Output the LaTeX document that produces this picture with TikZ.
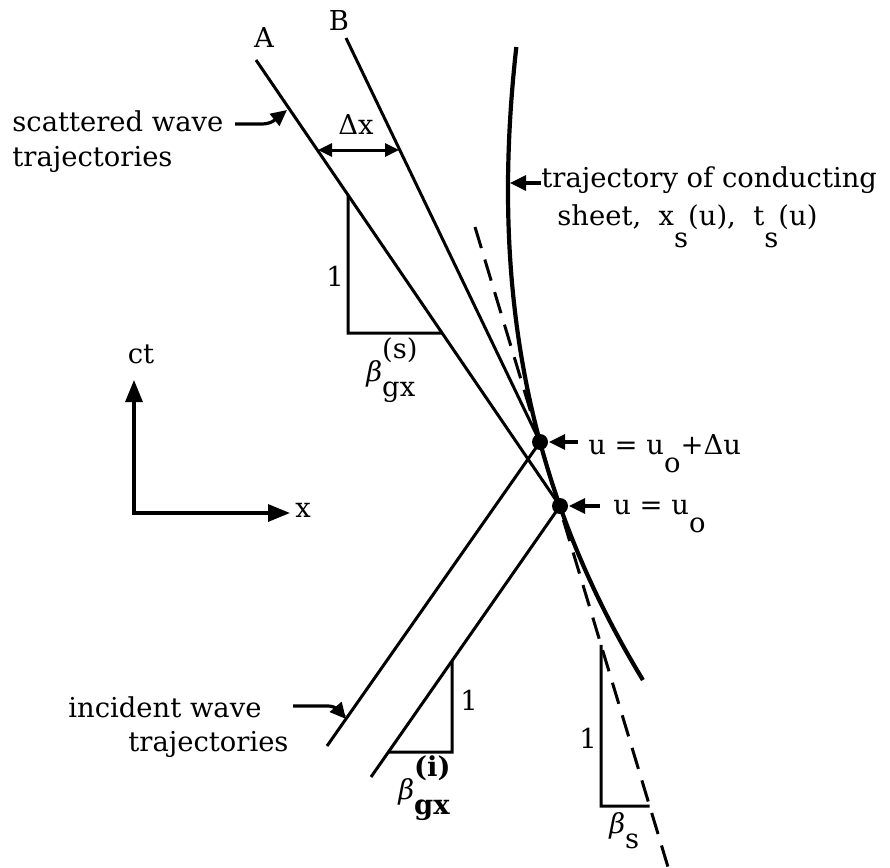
\documentclass[tikz,border=0pt]{standalone}
\usepackage{fontspec}
\setmainfont{DejaVu Serif}
\usetikzlibrary{arrows.meta}
\newcommand{\gb}{{\itshape β}}
\newcommand{\betalab}[2]{\gb\rlap{\raisebox{1.6ex}{#1}}\raisebox{-1.1ex}{#2}}
\begin{document}
\begin{tikzpicture}[x=0.5pt,y=-0.5pt,
  every node/.style={inner sep=0pt, font=\fontsize{13.7}{16}\selectfont},
  ln/.style={line width=1.5pt},
  sheetln/.style={line width=2.1pt},
  dashln/.style={line width=1.5pt, dash pattern=on 11pt off 6pt},
  tri/.style={line width=1.5pt, line join=miter},
  ptr/.style={line width=1.6pt, -{Triangle[length=8pt,width=7.5pt]}},
  dbl/.style={line width=1.5pt, {Triangle[length=7pt,width=6.5pt]}-{Triangle[length=7pt,width=6.5pt]}},
  axis/.style={line width=1.6pt, {Triangle[length=11pt,width=8.5pt]}-{Triangle[length=11pt,width=8.5pt]}},
  dot/.style={circle, fill=black, minimum size=8pt, inner sep=0pt},
]
\useasboundingbox (0,0) rectangle (890,868);

% key points
\coordinate (A0) at (256,60);
\coordinate (B0) at (346,38);
\coordinate (I1) at (327,746);
\coordinate (I2) at (371,777);
\coordinate (D0) at (475,227);
\coordinate (D1) at (668,867);
\coordinate (u1c) at (540,442);
\coordinate (u0c) at (560,506);

% conducting sheet trajectory
\draw[sheetln] plot[domain=47:680, samples=90, variable=\t]
  ({508 + 4.42*((\t-190)/100)^2 + 0.245*((\t-190)/100)^3}, \t);

% wave trajectories
\draw[ln] (A0) -- (u0c);
\draw[ln] (B0) -- (u1c);
\draw[ln] (I1) -- (u1c);
\draw[ln] (I2) -- (u0c);
\draw[dashln] (D0) -- (D1);

% dots
\node[dot] (u1) at (u1c) {};
\node[dot] (u0) at (u0c) {};

% triangles
\coordinate (sT) at (intersection of A0--u0c and 348,0--348,900);
\coordinate (sB) at (348,333);
\coordinate (sR) at (intersection of A0--u0c and 0,333--900,333);
\draw[tri] (sT) -- (sB) -- (sR);

\coordinate (iT) at (intersection of I2--u0c and 452,0--452,900);
\coordinate (iB) at (452,752);
\coordinate (iL) at (intersection of I2--u0c and 0,752--900,752);
\draw[tri] (iT) -- (iB) -- (iL);

\coordinate (bT) at (intersection of D0--D1 and 601,0--601,900);
\coordinate (bB) at (601,806);
\coordinate (bR) at (intersection of D0--D1 and 0,806--900,806);
\draw[tri] (bT) -- (bB) -- (bR);

% labels A, B
\node[anchor=base] (lA) at (264,47) {A};
\node[anchor=base] (lB) at (339,30) {B};

% scattered wave label
\node[anchor=base west] (sc1) at (12,131) {scattered wave};
\node[anchor=base west] (sc2) at (12,166) {trajectories};
\coordinate (sa0) at (235,124);
\coordinate (sa1) at (287,110);
\draw[ptr] (sa0) -- (262,124) .. controls (272,124) and (277,118) .. (sa1);

% delta x
\coordinate (dx0) at (318,150);
\coordinate (dx1) at (399,150);
\draw[dbl] (dx0) -- (dx1);
\node (ldx) at (356,125) {Δx};

% conducting sheet label
\coordinate (ta0) at (541,183);
\coordinate (ta1) at (510,183);
\draw[ptr] (ta0) -- (ta1);
\node[anchor=base west] (tl1) at (541,187) {trajectory of conducting};
\node[anchor=base west] (tl2) at (557,225) {sheet,\ \ x\raisebox{-1.6ex}{s}(u),\ \ t\raisebox{-1.6ex}{s}(u)};

% triangle labels
\node (one1) at (335,276) {1};
\node[anchor=base west] (bsl) at (366,381) {\betalab{(s)}{gx}};
\node (one2) at (469,700) {1};
\node[anchor=base west] (bil) at (398,799) {\betalab{\textbf{(i)}}{\textbf{gx}}};
\node (one3) at (588,738) {1};
\node[anchor=base west] (bss) at (609,833) {\gb\raisebox{-1.1ex}{s}};

% axes
\coordinate (org) at (134,513);
\coordinate (yax) at (134,380);
\coordinate (xax) at (290,513);
\draw[axis] (yax) -- (org) -- (xax);
\node (lct) at (141,354) {ct};
\node (lx) at (303,510) {x};

% u labels
\coordinate (p1a) at (578,442);
\coordinate (p1b) at (549,442);
\draw[ptr] (p1a) -- (p1b);
\node[anchor=base west] (lu1) at (588,454) {u = u\raisebox{-1.3ex}{o}+Δu};
\coordinate (p0a) at (600,506);
\coordinate (p0b) at (569,506);
\draw[ptr] (p0a) -- (p0b);
\node[anchor=base west] (lu0) at (613,514) {u = u\raisebox{-1.3ex}{o}};

% incident wave label
\node[anchor=base west] (in1) at (68,717) {incident wave};
\node[anchor=base west] (in2) at (128,751) {trajectories};
\coordinate (ia0) at (293,706);
\coordinate (ia1) at (346,719);
\draw[ptr] (ia0) -- (328,706) .. controls (336,706) and (340,712) .. (ia1);
\end{tikzpicture}
\end{document}
